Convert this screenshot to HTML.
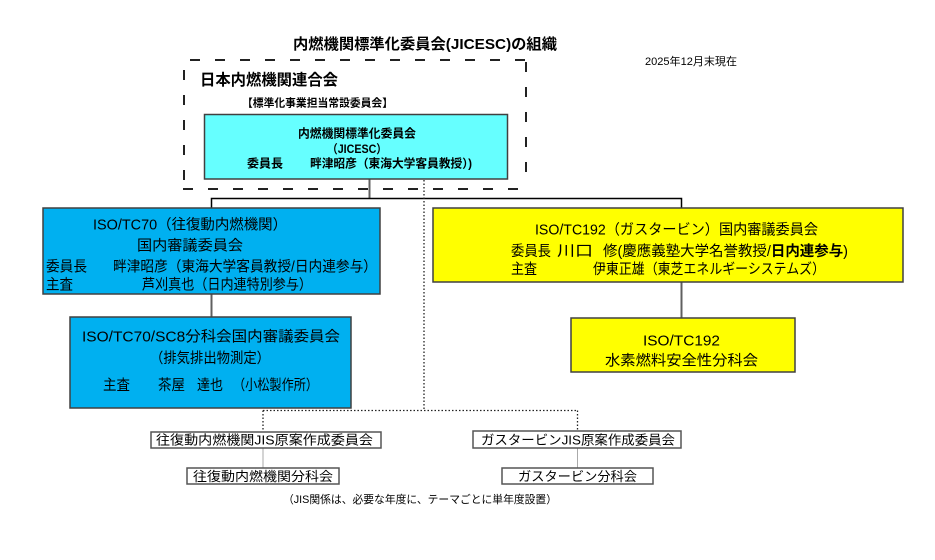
<!DOCTYPE html>
<html>
<head>
<meta charset="utf-8">
<style>
  html,body{margin:0;padding:0;background:#fff;}
  svg{display:block;}
  text{font-family:"Liberation Sans","Noto Sans CJK JP",sans-serif;fill:#000;}
  .b{font-weight:bold;}
</style>
</head>
<body>
<svg width="935" height="560" viewBox="0 0 935 560" xmlns="http://www.w3.org/2000/svg">
  <rect x="0" y="0" width="935" height="560" fill="#fff"/>

  <!-- Title -->
  <text class="b" x="293" y="49" font-size="15" textLength="264" lengthAdjust="spacingAndGlyphs">内燃機関標準化委員会(JICESC)の組織</text>
  <text x="645" y="65" font-size="11" textLength="92" lengthAdjust="spacingAndGlyphs">2025年12月末現在</text>

  <!-- Dashed outer box -->
  <g stroke="#222" stroke-width="2" stroke-dasharray="10 15" fill="none">
    <line x1="190" y1="60" x2="528" y2="60"/>
    <line x1="183" y1="189" x2="528" y2="189"/>
    <line x1="184" y1="70" x2="184" y2="186"/>
    <line x1="526" y1="62" x2="526" y2="186"/>
  </g>

  <text class="b" x="200" y="85" font-size="15.5" textLength="138" lengthAdjust="spacingAndGlyphs">日本内燃機関連合会</text>
  <text class="b" x="242" y="106.5" font-size="11" textLength="151" lengthAdjust="spacingAndGlyphs">【標準化事業担当常設委員会】</text>

  <!-- connectors -->
  <line x1="369.5" y1="179" x2="369.5" y2="198.5" stroke="#606060" stroke-width="2"/>
  <polyline points="211.5,208 211.5,198.5 681.5,198.5 681.5,208" fill="none" stroke="#000" stroke-width="1.5"/>
  <line x1="211.5" y1="294" x2="211.5" y2="317" stroke="#606060" stroke-width="2"/>
  <line x1="681.5" y1="282" x2="681.5" y2="318" stroke="#606060" stroke-width="2"/>

  <!-- dotted connectors -->
  <g stroke="#222" stroke-width="1.3" stroke-dasharray="1.5 2" fill="none">
    <line x1="424" y1="180" x2="424" y2="410.5"/>
    <line x1="263" y1="410.5" x2="578" y2="410.5"/>
    <line x1="263" y1="410.5" x2="263" y2="432"/>
    <line x1="577.5" y1="410.5" x2="577.5" y2="431"/>
  </g>
  <line x1="263" y1="448" x2="263" y2="468" stroke="#aaa" stroke-width="1"/>
  <line x1="577.5" y1="448" x2="577.5" y2="468" stroke="#aaa" stroke-width="1"/>

  <!-- Cyan box -->
  <rect x="204.5" y="114.5" width="303" height="64.5" fill="#66FFFF" stroke="#404040" stroke-width="1.5"/>
  <text class="b" x="298" y="137.5" font-size="12" textLength="118" lengthAdjust="spacingAndGlyphs">内燃機関標準化委員会</text>
  <text class="b" x="327" y="153" font-size="12" textLength="60" lengthAdjust="spacingAndGlyphs">（JICESC）</text>
  <text class="b" x="247" y="167.5" font-size="12" textLength="36" lengthAdjust="spacingAndGlyphs">委員長</text>
  <text class="b" x="310" y="167.5" font-size="12" textLength="162" lengthAdjust="spacingAndGlyphs">畔津昭彦（東海大学客員教授）)</text>

  <!-- Blue box 1 -->
  <rect x="43" y="208" width="337" height="86" fill="#00B0F0" stroke="#404040" stroke-width="1.5"/>
  <text x="93" y="229.5" font-size="14.5" textLength="194" lengthAdjust="spacingAndGlyphs">ISO/TC70（往復動内燃機関）</text>
  <text x="137" y="250.5" font-size="14.5" textLength="106" lengthAdjust="spacingAndGlyphs">国内審議委員会</text>
  <text x="46" y="271.5" font-size="14.5" textLength="41" lengthAdjust="spacingAndGlyphs">委員長</text>
  <text x="113" y="271.5" font-size="14.5" textLength="264" lengthAdjust="spacingAndGlyphs">畔津昭彦（東海大学客員教授/日内連参与）</text>
  <text x="46" y="289.5" font-size="14.5" textLength="27" lengthAdjust="spacingAndGlyphs">主査</text>
  <text x="142" y="289.5" font-size="14.5" textLength="170" lengthAdjust="spacingAndGlyphs">芦刈真也（日内連特別参与）</text>

  <!-- Blue box 2 -->
  <rect x="70" y="317" width="281" height="91" fill="#00B0F0" stroke="#404040" stroke-width="1.5"/>
  <text x="82" y="341.5" font-size="14.5" textLength="258" lengthAdjust="spacingAndGlyphs">ISO/TC70/SC8分科会国内審議委員会</text>
  <text x="150" y="363" font-size="14.5" textLength="120" lengthAdjust="spacingAndGlyphs">（排気排出物測定）</text>
  <text x="103" y="390" font-size="14.5" textLength="27" lengthAdjust="spacingAndGlyphs">主査</text>
  <text x="158" y="390" font-size="14.5" textLength="27" lengthAdjust="spacingAndGlyphs">茶屋</text>
  <text x="197" y="390" font-size="14.5" textLength="26" lengthAdjust="spacingAndGlyphs">達也</text>
  <text x="233" y="390" font-size="14.5" textLength="85" lengthAdjust="spacingAndGlyphs">（小松製作所）</text>

  <!-- Yellow box 1 -->
  <rect x="433" y="208" width="470" height="74" fill="#FFFF00" stroke="#404040" stroke-width="1.5"/>
  <text x="535" y="234.5" font-size="14.5" textLength="283" lengthAdjust="spacingAndGlyphs">ISO/TC192（ガスタービン）国内審議委員会</text>
  <text x="511" y="256" font-size="14.5" textLength="40" lengthAdjust="spacingAndGlyphs">委員長</text>
  <text x="557" y="256" font-size="14.5" textLength="36" lengthAdjust="spacingAndGlyphs">川口</text>
  <text x="603" y="256" font-size="14.5" textLength="245" lengthAdjust="spacingAndGlyphs">修(慶應義塾大学名誉教授/<tspan class="b">日内連参与</tspan>)</text>
  <text x="511" y="274" font-size="14.5" textLength="26" lengthAdjust="spacingAndGlyphs">主査</text>
  <text x="593" y="274" font-size="14.5" textLength="232" lengthAdjust="spacingAndGlyphs">伊東正雄（東芝エネルギーシステムズ）</text>

  <!-- Yellow box 2 -->
  <rect x="571" y="318" width="224" height="54" fill="#FFFF00" stroke="#404040" stroke-width="1.5"/>
  <text x="643" y="345.5" font-size="14.5" textLength="77" lengthAdjust="spacingAndGlyphs">ISO/TC192</text>
  <text x="605" y="365.5" font-size="14.5" textLength="153" lengthAdjust="spacingAndGlyphs">水素燃料安全性分科会</text>

  <!-- JIS boxes -->
  <g fill="#fff" stroke="#555" stroke-width="1.5">
    <rect x="151" y="432" width="230" height="16"/>
    <rect x="187" y="468" width="152" height="16"/>
    <rect x="473" y="431" width="208" height="17"/>
    <rect x="502" y="468" width="151" height="16"/>
  </g>
  <text x="156" y="444.5" font-size="13" textLength="217" lengthAdjust="spacingAndGlyphs">往復動内燃機関JIS原案作成委員会</text>
  <text x="193" y="481" font-size="13" textLength="140" lengthAdjust="spacingAndGlyphs">往復動内燃機関分科会</text>
  <text x="481" y="444.5" font-size="13" textLength="194" lengthAdjust="spacingAndGlyphs">ガスタービンJIS原案作成委員会</text>
  <text x="518" y="481" font-size="13" textLength="119" lengthAdjust="spacingAndGlyphs">ガスタービン分科会</text>

  <text x="283" y="503" font-size="11" textLength="274" lengthAdjust="spacingAndGlyphs">（JIS関係は、必要な年度に、テーマごとに単年度設置）</text>
</svg>
</body>
</html>
